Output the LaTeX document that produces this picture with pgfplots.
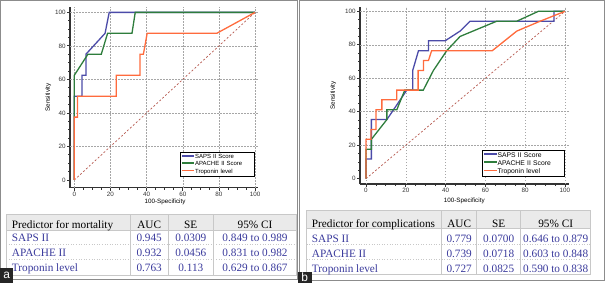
\documentclass[border=0pt]{standalone}
\usepackage{pgfplots}
\pgfplotsset{compat=1.18}
\usepackage{fontspec}
\setmainfont{Liberation Sans}
\newfontfamily\tnr{Liberation Serif}
\definecolor{saps}{HTML}{4B4BA8}
\definecolor{apache}{HTML}{2E7D3C}
\definecolor{trop}{HTML}{FF6B3D}
\definecolor{diagc}{HTML}{B5584E}
\definecolor{tblue}{HTML}{3A3A9C}
\definecolor{framec}{HTML}{8C8C8C}
\definecolor{hdr}{HTML}{EAEAEA}
\definecolor{tline}{HTML}{C8C8C8}
\pgfplotsset{
 rocstyle/.style={
  scale only axis, axis lines*=left,
  axis line style={line width=1.4bp, color=black!80},
  xtick={0,20,...,100}, ytick={0,20,...,100},
  minor tick num=3, tick align=outside,
  major tick length=3bp, minor tick length=1.8bp,
  tick style={line width=0.8bp, black!80},
  ticklabel style={font=\fontsize{6.3}{7}\selectfont, text=black!80, inner sep=1.2bp},
  /pgf/number format/assume math mode=true,
  extra x ticks={0,20,...,100}, extra y ticks={20,40,...,100},
  extra x tick labels={}, extra y tick labels={},
  extra tick style={grid=major, major tick length=0pt},
  grid style={dash pattern=on 1.5bp off 1.5bp, color=gray!70, line width=0.5bp},
  label style={font=\fontsize{6.3}{7}\selectfont},
  xlabel={100-Specificity}, ylabel={Sensitivity},
  legend cell align=left,
  legend image code/.code={\fill[##1, draw=none] (0bp,0.3bp) rectangle (12.5bp,2.1bp);},
 },
 rocline/.style={line width=1.3bp, mark=none},
}
\begin{document}
\begin{tikzpicture}[x=1bp,y=1bp]
\useasboundingbox (0,0) rectangle (605,283);
% panel frames
\draw[framec, line width=1bp] (0.5,3.5) rectangle (297.5,282.5);
\draw[framec, line width=1bp] (299.5,3) rectangle (604.5,282.5);

% ---------- Panel a ----------
\begin{axis}[rocstyle, at={(70bp,95.3bp)}, anchor=south west,
  width=188.3bp, height=180.7bp,
  xmin=-2.4, xmax=101.8, ymin=-4.6, ymax=103.2,
  xlabel style={at={(axis description cs:0.505,-0.077)}, anchor=center},
  ylabel style={at={(axis description cs:-0.115,0.5)}, anchor=center},
  legend style={at={(axis cs:100,1.8)}, anchor=south east, draw=black, line width=1.2bp,
    fill=white, font=\fontsize{6}{7}\selectfont, inner xsep=1.5bp, inner ysep=1bp, row sep=0bp,
    nodes={inner sep=0.8bp, text height=4.5bp, text depth=1.3bp},
    /tikz/every even column/.append style={text width=57bp}},
]
\addplot[diagc, line width=0.7bp, dash pattern=on 2bp off 2bp, forget plot] coordinates {(0,0) (100,100)};
\addplot[saps, rocline] coordinates {(0,0) (0,50) (4.2,50) (4.2,62.5) (6.4,62.5) (6.4,75) (17,87.5) (19.3,100) (100,100)};
\addlegendentry{SAPS II Score}
\addplot[apache, rocline] coordinates {(0,0) (0,62.5) (7.5,75) (14.9,75) (18.4,87.5) (31.9,87.5) (33.7,100) (100,100)};
\addlegendentry{APACHE II Score}
\addplot[trop, rocline] coordinates {(0,0) (0,37.5) (1.8,37.5) (1.8,50) (23.2,50) (23.2,62.5) (36.3,62.5) (36.3,75) (38.2,75) (40.3,87.5) (78.8,87.5) (100,100)};
\addlegendentry{Troponin level}
\end{axis}

% ---------- Panel b ----------
\begin{axis}[rocstyle, at={(360bp,99bp)}, anchor=south west,
  width=209.3bp, height=177bp,
  xmin=-3.0, xmax=102.2, ymin=-3.2, ymax=102.6,
  xlabel style={at={(axis description cs:0.498,-0.098)}, anchor=center},
  ylabel style={at={(axis description cs:-0.128,0.5)}, anchor=center},
  legend style={at={(axis cs:100,0.8)}, anchor=south east, draw=black, line width=1.2bp,
    fill=white, font=\fontsize{6.8}{7.5}\selectfont, inner xsep=2bp, inner ysep=1bp, row sep=0bp,
    nodes={inner sep=0.8bp, text height=5bp, text depth=1.5bp},
    /tikz/every even column/.append style={text width=64bp}},
]
\addplot[diagc, line width=0.7bp, dash pattern=on 2bp off 2bp, forget plot] coordinates {(0,0) (100,100)};
\addplot[saps, rocline] coordinates {(0,0) (0,11.8) (2.7,11.8) (2.7,35.3) (10.5,35.3) (20.5,52.9) (23.5,52.9) (23.5,64.7) (26.4,76.5) (31.4,76.5) (31.4,82.4) (39.8,82.4) (47.3,88.2) (52.3,94.1) (94.5,94.1) (94.5,100) (100,100)};
\addlegendentry{SAPS II Score}
\addplot[apache, rocline] coordinates {(0,0) (0,17.6) (2.7,17.6) (2.7,23.5) (10.5,35.3) (10.5,41.2) (15.5,41.2) (19.5,52.9) (28.8,52.9) (33.9,64.7) (40.6,76.5) (47.3,85) (65.7,94.1) (75.8,94.1) (86.6,100) (100,100)};
\addlegendentry{APACHE II Score}
\addplot[trop, rocline] coordinates {(0,0) (0,23.5) (2.5,23.5) (2.5,29.4) (5,29.4) (5,41.2) (8,41.2) (8,47.1) (15.5,47.1) (15.5,52.9) (26.2,52.9) (26.2,64.7) (28.9,64.7) (28.9,70.6) (31.4,70.6) (33,76.5) (63.5,76.5) (75.8,88.2) (87.5,94.1) (100,100)};
\addlegendentry{Troponin level}
\end{axis}

% ---------- Table a ----------
\tikzset{tc/.style={font=\tnr\fontsize{11.3}{12}\selectfont, inner sep=0pt}}
\fill[hdr] (6,53) rectangle (296.7,69);
\draw[tline, line width=0.6bp] (6,8) rectangle (296.7,69);
\draw[tline, line width=0.6bp] (6,53) -- (296.7,53);
\draw[tline, line width=0.6bp, dotted] (6,38.7) -- (296.7,38.7) (6,24) -- (296.7,24);
\draw[tline, line width=0.6bp] (130,8) -- (130,69) (168.3,8) -- (168.3,69) (213.3,8) -- (213.3,69);
\node[tc, anchor=base west] at (11.7,54.9) {Predictor for mortality};
\node[tc, anchor=base] at (149.2,54.9) {AUC};
\node[tc, anchor=base] at (190.8,54.9) {SE};
\node[tc, anchor=base] at (255,54.9) {95\% CI};
\begin{scope}[every node/.style={tc, text=tblue}]
\node[anchor=base west] at (11.7,41.3) {SAPS II};
\node[anchor=base] at (149.2,41.3) {0.945};
\node[anchor=base] at (190.8,41.3) {0.0309};
\node[anchor=base] at (255,41.3) {0.849 to 0.989};
\node[anchor=base west] at (11.7,26.3) {APACHE II};
\node[anchor=base] at (149.2,26.3) {0.932};
\node[anchor=base] at (190.8,26.3) {0.0456};
\node[anchor=base] at (255,26.3) {0.831 to 0.982};
\node[anchor=base west] at (11.7,11.3) {Troponin level};
\node[anchor=base] at (149.2,11.3) {0.763};
\node[anchor=base] at (190.8,11.3) {0.113};
\node[anchor=base] at (255,11.3) {0.629 to 0.867};
\end{scope}

% ---------- Table b ----------
\fill[hdr] (306.7,54.7) rectangle (590.7,73);
\draw[tline, line width=0.6bp] (306.7,8.7) rectangle (590.7,73);
\draw[tline, line width=0.6bp] (306.7,54.7) -- (590.7,54.7);
\draw[tline, line width=0.6bp, dotted] (306.7,38.7) -- (590.7,38.7) (306.7,24) -- (590.7,24);
\draw[tline, line width=0.6bp] (441.7,8.7) -- (441.7,73) (476.7,8.7) -- (476.7,73) (520.7,8.7) -- (520.7,73);
\node[tc, anchor=base west] at (311.7,56) {Predictor for complications};
\node[tc, anchor=base] at (459.2,56) {AUC};
\node[tc, anchor=base] at (498.7,56) {SE};
\node[tc, anchor=base] at (555.7,56) {95\% CI};
\begin{scope}[every node/.style={tc, text=tblue}]
\node[anchor=base west] at (311.7,40.7) {SAPS II};
\node[anchor=base] at (459.2,40.7) {0.779};
\node[anchor=base] at (498.7,40.7) {0.0700};
\node[anchor=base] at (555.7,40.7) {0.646 to 0.879};
\node[anchor=base west] at (311.7,25.7) {APACHE II};
\node[anchor=base] at (459.2,25.7) {0.739};
\node[anchor=base] at (498.7,25.7) {0.0718};
\node[anchor=base] at (555.7,25.7) {0.603 to 0.848};
\node[anchor=base west] at (311.7,10.7) {Troponin level};
\node[anchor=base] at (459.2,10.7) {0.727};
\node[anchor=base] at (498.7,10.7) {0.0825};
\node[anchor=base] at (555.7,10.7) {0.590 to 0.838};
\end{scope}

% ---------- panel letters ----------
\fill[black!85] (0,0) rectangle (13.3,15.5);
\node[text=white, font=\fontsize{12}{12}\selectfont, inner sep=0pt] at (6.6,7.3) {a};
\fill[black!85] (297.5,0) rectangle (312,11);
\node[text=white, font=\fontsize{12}{12}\selectfont, inner sep=0pt, anchor=base] at (304.7,1.3) {b};
\end{tikzpicture}
\end{document}
